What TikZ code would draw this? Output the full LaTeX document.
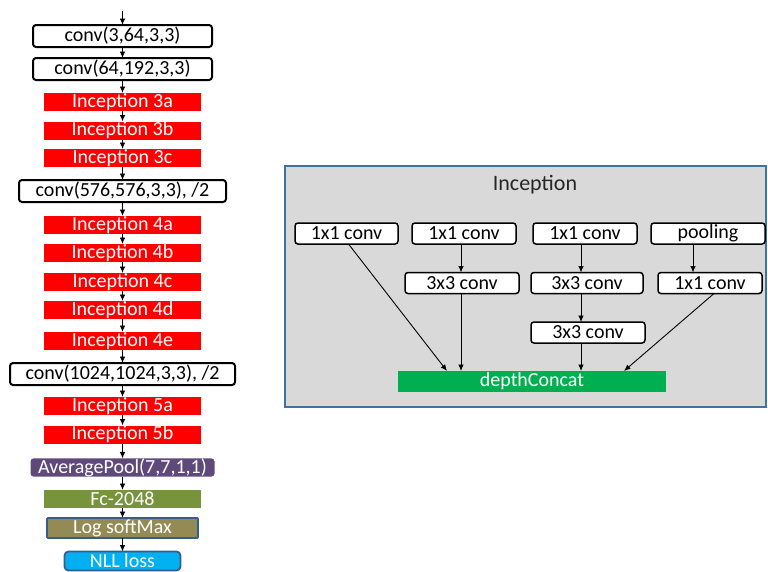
\documentclass[tikz,border=0pt]{standalone}
\usepackage{fontspec}
\setmainfont{Carlito}
\usetikzlibrary{arrows.meta,calc}
\definecolor{increda}{HTML}{FF0000}
\definecolor{poolpurple}{HTML}{5F497A}
\definecolor{fcolive}{HTML}{77933C}
\definecolor{logkhaki}{HTML}{948A54}
\definecolor{nllcyan}{HTML}{00B0F0}
\definecolor{edgeblue}{HTML}{385D8A}
\definecolor{framegray}{HTML}{D9D9D9}
\definecolor{framebord}{HTML}{41719C}
\definecolor{concatgreen}{HTML}{00B050}
\begin{document}
\begin{tikzpicture}[x=1pt,y=-1pt,
  every node/.style={font=\fontsize{20}{21}\selectfont, inner sep=0pt, outer sep=0pt, anchor=center},
  blk/.style={draw=black, line width=2pt, rounded corners=3pt, fill=white, minimum height=22pt},
  incblk/.style={fill=increda, text=white, minimum width=157pt, minimum height=18pt},
  ibox/.style={draw=black, line width=1.5pt, rounded corners=3pt, fill=white, minimum height=21pt},
  arr/.style={-{Latex[length=6.5pt,width=5.5pt]}, line width=0.9pt},
]
\useasboundingbox (0,0) rectangle (768,571);

% main network column
\coordinate (in) at (122.5,11);
\node[blk, minimum width=179pt] (c1) at (122.5,36) {conv(3,64,3,3)};
\node[blk, minimum width=179pt] (c2) at (122.5,69) {conv(64,192,3,3)};
\node[incblk] (i3a) at (122.5,102) {Inception 3a};
\node[incblk] (i3b) at (122.5,130.5) {Inception 3b};
\node[incblk] (i3c) at (122.5,158) {Inception 3c};
\node[blk, minimum width=207pt] (c3) at (122.5,191) {conv(576,576,3,3), /2};
\node[incblk] (i4a) at (122.5,225) {Inception 4a};
\node[incblk] (i4b) at (122.5,253) {Inception 4b};
\node[incblk] (i4c) at (122.5,282) {Inception 4c};
\node[incblk] (i4d) at (122.5,310) {Inception 4d};
\node[incblk] (i4e) at (122.5,341) {Inception 4e};
\node[blk, minimum width=225pt] (c4) at (122.5,374) {conv(1024,1024,3,3), /2};
\node[incblk] (i5a) at (122.5,406) {Inception 5a};
\node[incblk] (i5b) at (122.5,434.5) {Inception 5b};
\node[fill=poolpurple, text=white, rounded corners=3pt, minimum width=184pt, minimum height=17pt] (avg) at (122.5,467.5) {AveragePool(7,7,1,1)};
\node[fill=fcolive, text=white, minimum width=157pt, minimum height=18pt] (fc) at (122.5,499) {Fc-2048};
\node[fill=logkhaki, draw=edgeblue, line width=1.8pt, rounded corners=1pt, text=white, minimum width=151pt, minimum height=20pt] (lsm) at (122.5,528) {Log softMax};
\node[fill=nllcyan, draw=edgeblue, line width=1.8pt, rounded corners=4pt, text=white, minimum width=116pt, minimum height=19pt, text depth=0pt] (nll) at (122.5,561) {NLL loss};

\draw[arr] (in) -- (c1.north);
\foreach \a/\b in {c1/c2, c2/i3a, i3a/i3b, i3b/i3c, i3c/c3, c3/i4a, i4a/i4b, i4b/i4c, i4c/i4d, i4d/i4e, i4e/c4, c4/i5a, i5a/i5b, i5b/avg, avg/fc, fc/lsm, lsm/nll}
  \draw[arr] (\a.south) -- (\b.north);

% inception module
\node[draw=framebord, fill=framegray, line width=2pt, minimum width=481pt, minimum height=241pt] (frame) at (525.5,286.5) {};
\node[font=\fontsize{22}{23}\selectfont, text=black!85] (title) at (535,185) {Inception};

\node[ibox, minimum width=103pt] (a1) at (346.5,233.5) {1x1 conv};
\node[ibox, minimum width=104pt] (a2) at (464,233.5) {1x1 conv};
\node[ibox, minimum width=104pt] (a3) at (585,233.5) {1x1 conv};
\node[ibox, minimum width=114pt] (a4) at (708,233.5) {pooling};
\node[ibox, minimum width=114pt] (b2) at (462,283) {3x3 conv};
\node[ibox, minimum width=112pt] (b3) at (587,283) {3x3 conv};
\node[ibox, minimum width=104pt] (b4) at (710,283) {1x1 conv};
\node[ibox, minimum width=114pt] (d3) at (588,332.5) {3x3 conv};
\node[fill=concatgreen, text=white, minimum width=268pt, minimum height=21pt] (dc) at (532,381.5) {depthConcat};

\draw[arr] ([xshift=2pt]a1.south) -- ([xshift=-85pt]dc.north);
\draw[arr] ([xshift=-3pt]a2.south) -- ([xshift=-1pt]b2.north);
\draw[arr] ([xshift=-1pt]b2.south) -- ([xshift=-1pt]b2.south |- dc.north);
\draw[arr] ([xshift=-4pt]a3.south) -- ([xshift=-6pt]b3.north);
\draw[arr] ([xshift=-6pt]b3.south) -- ([xshift=-7pt]d3.north);
\draw[arr] ([xshift=-7pt]d3.south) -- ([xshift=-7pt]d3.south |- dc.north);
\draw[arr] ([xshift=-15pt]a4.south) -- ([xshift=-17pt]b4.north);
\draw[arr] ([xshift=4pt]b4.south) -- ([xshift=92pt]dc.north);
\end{tikzpicture}
\end{document}
